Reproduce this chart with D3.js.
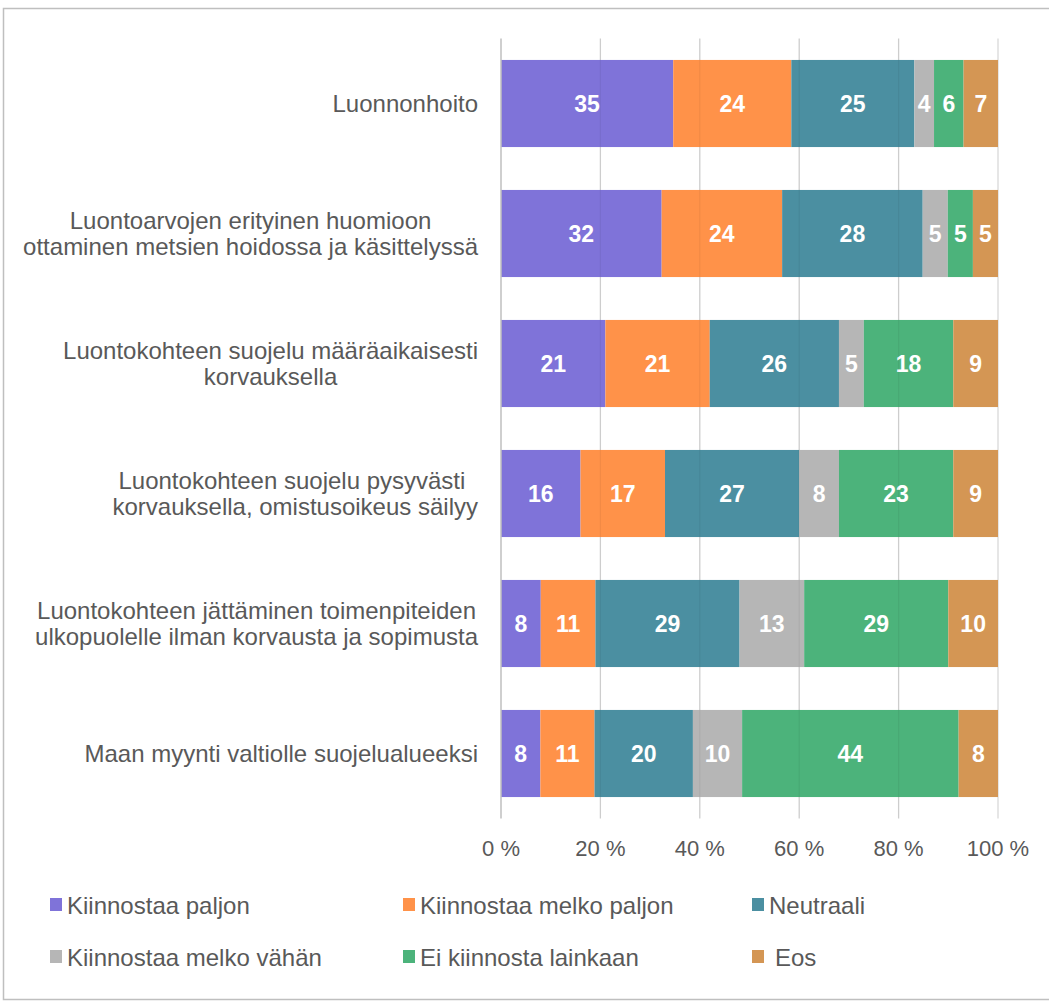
<!DOCTYPE html>
<html>
<head>
<meta charset="utf-8">
<script src="https://d3js.org/d3.v7.min.js"></script>
<style>
  body { margin:0; background:#fff; }
  text { font-family: "Liberation Sans", Arial, sans-serif; }
  .frame { fill:none; stroke:#bfbfbf; stroke-width:1.5; }
</style>
</head>
<body>
<script>
var categories = [
  ["Luonnonhoito"],
  ["Luontoarvojen erityinen huomioon", "ottaminen metsien hoidossa ja käsittelyssä"],
  ["Luontokohteen suojelu määräaikaisesti", "korvauksella"],
  ["Luontokohteen suojelu pysyvästi ", "korvauksella, omistusoikeus säilyy"],
  ["Luontokohteen jättäminen toimenpiteiden", "ulkopuolelle ilman korvausta ja sopimusta"],
  ["Maan myynti valtiolle suojelualueeksi"]
];
var seriesNames = ["Kiinnostaa paljon", "Kiinnostaa melko paljon", "Neutraali",
                   "Kiinnostaa melko vähän", "Ei kiinnosta lainkaan", "Eos"];
var colors = ["#7f73d9", "#ff9249", "#4b8fa1", "#b6b6b6", "#4cb37b", "#d49654"];

var paljon      = [35, 32, 21, 16, 8, 8];
var melkoPaljon = [24, 24, 21, 17, 11, 11];
var neutraali   = [25, 28, 26, 27, 29, 20];
var melkoVahan  = [4, 5, 5, 8, 13, 10];
var eiLainkaan  = [6, 5, 18, 23, 29, 44];
var eos         = [7, 5, 9, 9, 10, 8];
var xTicks = [0, 0.2, 0.4, 0.6, 0.8, 1];

var W = 1049, H = 1003;
var plotL = 501, plotR = 998, plotT = 38.5, plotB = 818.5;

var svg = d3.select("body").append("svg").attr("width", W).attr("height", H);

svg.append("rect").attr("class", "frame")
   .attr("x", 3.5).attr("y", 8.5).attr("width", W + 10).attr("height", H - 12);

var table = categories.map(function(c, i) {
  return {i: i, s0: paljon[i], s1: melkoPaljon[i], s2: neutraali[i],
          s3: melkoVahan[i], s4: eiLainkaan[i], s5: eos[i]};
});
var keys = ["s0", "s1", "s2", "s3", "s4", "s5"];
var stacked = d3.stack().keys(keys).offset(d3.stackOffsetExpand)(table);

var x = d3.scaleLinear().domain([0, 1]).range([plotL, plotR]);
var y = d3.scaleBand().domain(d3.range(categories.length)).range([plotT, plotB])
   .paddingInner(0.33).paddingOuter(0.165);

// gridlines (under bars)
svg.append("g").selectAll("line").data(xTicks.slice(1)).enter().append("line")
   .attr("x1", d => x(d)).attr("x2", d => x(d))
   .attr("y1", plotT).attr("y2", plotB)
   .attr("stroke", "#d9d9d9").attr("stroke-width", 1.3);

// bars
var groups = svg.append("g").selectAll("g").data(stacked).enter().append("g")
   .attr("fill", (d, i) => colors[i]);
groups.selectAll("rect").data(d => d).enter().append("rect")
   .attr("x", d => x(d[0]))
   .attr("width", d => x(d[1]) - x(d[0]))
   .attr("y", (d, i) => y(i))
   .attr("height", y.bandwidth());

// faint gridlines showing through the bars
svg.append("g").selectAll("line").data(xTicks.slice(1, 5)).enter().append("line")
   .attr("x1", d => x(d)).attr("x2", d => x(d))
   .attr("y1", plotT).attr("y2", plotB)
   .attr("stroke", "#000").attr("stroke-opacity", 0.05).attr("stroke-width", 1.3);

groups.each(function(s) {
  d3.select(this).selectAll("text").data(s).enter().append("text")
    .attr("x", d => (x(d[0]) + x(d[1])) / 2)
    .attr("y", (d, i) => y(i) + y.bandwidth() / 2)
    .attr("dy", "0.36em")
    .attr("text-anchor", "middle")
    .attr("fill", "#fff")
    .attr("font-weight", "bold")
    .attr("font-size", 23)
    .text(d => d.data[s.key]);
});

// axis line
svg.append("line").attr("x1", plotL).attr("x2", plotL).attr("y1", plotT).attr("y2", plotB)
   .attr("stroke", "#bfbfbf").attr("stroke-width", 1.5);

// tick labels
svg.append("g").selectAll("text").data(xTicks).enter().append("text")
   .attr("x", d => x(d)).attr("y", 848).attr("dy", "0.36em")
   .attr("text-anchor", "middle").attr("fill", "#595959").attr("font-size", 22)
   .text(d => Math.round(d * 100) + " %");

// category labels: lines centred within a block that is right-aligned at 478
categories.forEach(function(lines, i) {
  var cy = y(i) + y.bandwidth() / 2;
  var t = svg.append("text").attr("text-anchor", "middle").attr("fill", "#595959")
     .attr("font-size", 24).style("white-space", "pre");
  var spans = lines.map(function(l, j) {
    return t.append("tspan")
     .attr("y", cy + (j - (lines.length - 1) / 2) * 26)
     .attr("dy", "0.36em").text(l);
  });
  var maxW = d3.max(spans, s => s.node().getComputedTextLength());
  spans.forEach(s => s.attr("x", 478 - maxW / 2));
});

// legend
var legX = [50, 403, 752], legY = [905, 957];
seriesNames.forEach(function(n, i) {
  var lx = legX[i % 3], ly = legY[Math.floor(i / 3)];
  svg.append("rect").attr("x", lx).attr("y", ly - 7).attr("width", 12).attr("height", 13)
     .attr("fill", colors[i]);
  svg.append("text").attr("x", lx + 17 + (i === 5 ? 6 : 0)).attr("y", ly).attr("dy", "0.36em")
     .attr("fill", "#595959").attr("font-size", 24).text(n);
});
</script>
</body>
</html>
